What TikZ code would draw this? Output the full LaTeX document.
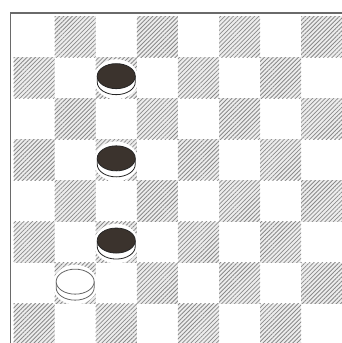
\documentclass[tikz,border=0pt]{standalone}
\usepackage{tikz}
\usetikzlibrary{patterns.meta}

\definecolor{pieceblack}{HTML}{3B332D}
\definecolor{hatchgray}{HTML}{8A8A8A}
\definecolor{framegray}{HTML}{6A6A6A}

\begin{document}
\begin{tikzpicture}[
    x=1pt, y=-1pt,
    darkbase/.style={fill=gray!14},
    darksq/.style={pattern={Lines[angle=45, distance=3pt, line width=0.8pt]}, pattern color=hatchgray},
    boardframe/.style={draw=framegray, line width=1.5pt},
    halo/.style={fill=white},
    blackrim/.style={draw=black!85, fill=white, line width=0.8pt},
    blacktop/.style={draw=black!85, fill=pieceblack, line width=0.8pt},
    whiterim/.style={draw=black!60, fill=white, line width=0.8pt},
    whitetop/.style={draw=black!60, fill=white, line width=0.8pt}
]

\useasboundingbox (0,0) rectangle (342,343);
\clip (0,0) rectangle (342,343);

\def\sq{41.1}

% dark squares
\foreach \r in {0,...,7}
  \foreach \c in {0,...,7} {
    \pgfmathtruncatemacro\odd{mod(\r+\c,2)}
    \ifnum\odd=1
      \path[darkbase] ({13.5+\c*\sq},{16+\r*\sq}) rectangle ++(\sq,\sq);
      \path[darksq] ({13.5+\c*\sq},{16+\r*\sq}) rectangle ++(\sq,\sq);
    \fi
  }

% frame
\draw[boardframe] (10.5,345) -- (10.5,13) -- (344,13);

% black pieces
\foreach \r in {1,3,5} {
  \begin{scope}[shift={({13.5+2.5*\sq},{16+(\r+0.5)*\sq+1.5})}]
    \path[halo] (0,0) ellipse [x radius=22.5, y radius=20];
    \draw[blackrim] (-19,-3) -- (-19,3) arc[start angle=180, end angle=0, x radius=19, y radius=12.5] -- (19,-3);
    \draw[blacktop] (0,-3) ellipse [x radius=19, y radius=12.5];
  \end{scope}
}

% white piece
\begin{scope}[shift={({13.5+1.5*\sq},{16+6.5*\sq+1.5})}]
  \path[halo] (0,0) ellipse [x radius=22.5, y radius=20];
  \draw[whiterim] (-19,-3) -- (-19,3) arc[start angle=180, end angle=0, x radius=19, y radius=12.5] -- (19,-3);
  \draw[whitetop] (0,-3) ellipse [x radius=19, y radius=12.5];
\end{scope}

\end{tikzpicture}
\end{document}
